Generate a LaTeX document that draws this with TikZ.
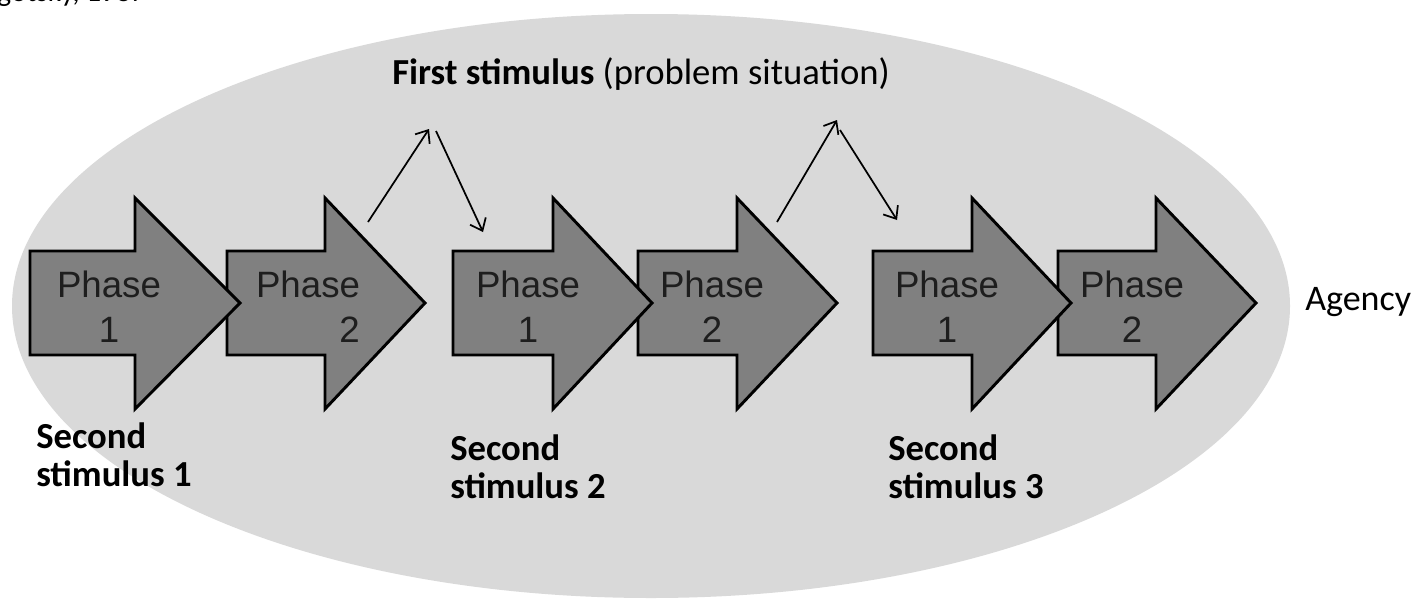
\documentclass[tikz,border=0pt]{standalone}
\usepackage{fontspec}
\setmainfont{Carlito}
\newfontfamily\arialfont{Liberation Sans}
\usetikzlibrary{arrows.meta}

\definecolor{zonegray}{HTML}{D9D9D9}
\definecolor{phasegray}{HTML}{808080}
\definecolor{phaseink}{HTML}{1E1E1E}

\tikzset{
  phasebox/.style={draw=black, line width=2.2pt, fill=phasegray, line join=miter},
  phasetext/.style={font=\arialfont\fontsize{27.5}{30}\selectfont, text=phaseink, anchor=base, inner sep=0pt},
  stimlabel/.style={font=\fontsize{27.5}{28.5}\selectfont\bfseries, align=left, anchor=north west, inner sep=0pt},
  plainlabel/.style={font=\fontsize{27}{30}\selectfont, anchor=base west, inner sep=0pt},
  link/.style={line width=1.3pt, -{Straight Barb[length=8pt, width=13pt, line width=1.3pt]}},
}

% one block arrow: left edge, start of the head, tip
\newcommand\phasearrow[3]{%
  \draw[phasebox] (#1,251) -- (#2,251) -- (#2,198) -- (#3,303) -- (#2,409) -- (#2,355) -- (#1,355) -- cycle;}

\begin{document}
\begin{tikzpicture}[x=0.75pt, y=-0.75pt]
  \clip (0,0) rectangle (1416,600);
  \fill[white] (0,0) rectangle (1416,600);

  % agency zone
  \fill[zonegray] (651,306) ellipse [x radius=639, y radius=292];

  % source line at the top edge
  \node[font=\fontsize{22}{25}\selectfont, anchor=base east, inner sep=0pt] (source) at (146,1) {gotsky, 1987};

  % first stimulus
  \node[font=\fontsize{27.5}{30}\selectfont, anchor=base west, inner sep=0pt] (first) at (392,84)
    {\textbf{First stimulus} (problem situation)};

  % pair 1
  \phasearrow{227}{325}{425}
  \phasearrow{30}{135}{240}
  % pair 2
  \phasearrow{638}{737}{837}
  \phasearrow{453}{553}{652}
  % pair 3
  \phasearrow{1058}{1156}{1256}
  \phasearrow{873}{972}{1071}

  % phase labels
  \node[phasetext] (pa1) at (109,297) {Phase};
  \node[phasetext] (na1) at (109,342) {1};
  \node[phasetext] (pa2) at (308,297) {Phase};
  \node[phasetext, anchor=base east] (na2) at (360,342) {2};
  \node[phasetext] (pb1) at (528,297) {Phase};
  \node[phasetext] (nb1) at (528,342) {1};
  \node[phasetext] (pb2) at (712,297) {Phase};
  \node[phasetext] (nb2) at (712,342) {2};
  \node[phasetext] (pc1) at (947,297) {Phase};
  \node[phasetext] (nc1) at (947,342) {1};
  \node[phasetext] (pc2) at (1132,297) {Phase};
  \node[phasetext] (nc2) at (1132,342) {2};

  % second stimuli
  \node[stimlabel] (second1) at (36,422) {Second\\stimulus 1};
  \node[stimlabel] (second2) at (450,434) {Second\\stimulus 2};
  \node[stimlabel] (second3) at (888,434) {Second\\stimulus 3};

  % agency
  \node[plainlabel] (agency) at (1305,310) {Agency};

  % excursions to the first stimulus
  \coordinate (up1s) at (368,222);
  \coordinate (up1e) at (429,129);
  \coordinate (dn1s) at (436,131);
  \coordinate (dn1e) at (483,232);
  \coordinate (up2s) at (777,222);
  \coordinate (up2e) at (837,120);
  \coordinate (dn2s) at (840,130);
  \coordinate (dn2e) at (897,220);
  \draw[link] (up1s) -- (up1e);
  \draw[link] (dn1s) -- (dn1e);
  \draw[link] (up2s) -- (up2e);
  \draw[link] (dn2s) -- (dn2e);
\end{tikzpicture}
\end{document}
